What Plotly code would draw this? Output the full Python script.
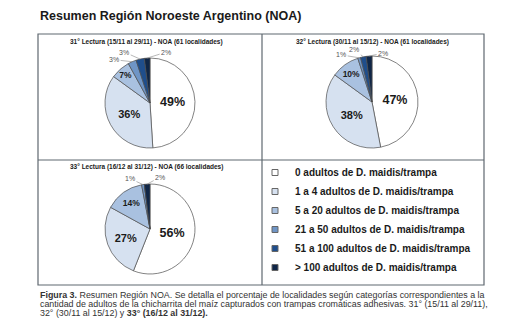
import math
import plotly.graph_objects as go

W, H = 519, 330

categories = [
    "0 adultos de D. maidis/trampa",
    "1 a 4 adultos de D. maidis/trampa",
    "5 a 20 adultos de D. maidis/trampa",
    "21 a 50 adultos de D. maidis/trampa",
    "51 a 100 adultos de D. maidis/trampa",
    "> 100 adultos de D. maidis/trampa",
]
lectura_31 = [49, 36, 7, 3, 3, 2]
lectura_32 = [47, 38, 10, 1, 2, 2]
lectura_33 = [56, 27, 14, 1, 0, 2]
titles = [
    "31° Lectura (15/11 al 29/11) - NOA (61 localidades)",
    "32° Lectura (30/11 al 15/12) - NOA (61 localidades)",
    "33° Lectura (16/12 al 31/12) - NOA (66 localidades)",
]
colors = ["#ffffff", "#d6e1f0", "#a9c1e0", "#6f95c6", "#1f4e8c", "#0f2647"]

FONT = "Liberation Sans, Arial, sans-serif"

def px_x(v):
    return v / W

def px_y(v):
    return 1 - v / H

# pie layout (centre x, centre y, radius) in pixels
pie_geo = [(150, 103, 45), (372, 102, 46), (150, 229, 45)]
inside_sizes = [12.5, 11, 8.5]
# pixel offsets of the small outside labels (per pie, per slice index)
label_offsets = [
    {3: (-18, -2), 4: (-16, -7), 5: (19, -6)},
    {3: (-18, -3), 4: (-9, -7), 5: (14, -3)},
    {3: (-13, -6), 5: (13, -7)},
]

fig = go.Figure()
annotations = []
for i, vals in enumerate([lectura_31, lectura_32, lectura_33]):
    cx, cy, r = pie_geo[i]
    total = float(sum(vals))
    texts, positions, sizes = [], [], []
    cum = 0.0
    for j, v in enumerate(vals):
        mid = (cum + v / 2.0) / total
        cum += v
        if j < 3 and v > 0:
            texts.append(f"<b>{v}%</b>")
            positions.append("inside")
            sizes.append(inside_sizes[j])
        else:
            texts.append("")
            positions.append("none")
            sizes.append(7)
            if v > 0 and j in label_offsets[i]:
                th = 2 * math.pi * mid
                ex = cx + r * math.sin(th)
                ey = cy - r * math.cos(th)
                ax, ay = label_offsets[i][j]
                annotations.append(dict(
                    text=f"{v}%", x=px_x(ex), y=px_y(ey), xref="paper", yref="paper",
                    showarrow=True, arrowhead=0, arrowwidth=0.6, arrowcolor="#888888",
                    ax=ax, ay=ay, standoff=0,
                    font=dict(size=7, color="#555555", family=FONT)))
    fig.add_trace(go.Pie(
        labels=categories,
        values=vals,
        text=texts,
        texttemplate="%{text}",
        textposition=positions,
        textfont=dict(size=sizes, color="#1a1a1a", family=FONT),
        insidetextorientation="horizontal",
        sort=False,
        direction="clockwise",
        rotation=0,
        marker=dict(colors=colors, line=dict(color="#4d4d4d", width=0.7)),
        domain=dict(x=[px_x(cx - r), px_x(cx + r)], y=[px_y(cy + r), px_y(cy - r)]),
        showlegend=False,
        hoverinfo="label+value",
    ))

# legend via dummy traces
for c, col in zip(categories, colors):
    fig.add_trace(go.Scatter(
        x=[None], y=[None], mode="markers", name=f"<b>{c}</b>",
        marker=dict(symbol="square", size=6, color=col,
                    line=dict(color="#666666", width=1)),
        showlegend=True,
    ))

box = dict(color="#5f6870", width=1.2)
shapes = [
    dict(type="rect", xref="paper", yref="paper",
         x0=px_x(38), x1=px_x(484), y0=px_y(285), y1=px_y(34), line=box),
    dict(type="line", xref="paper", yref="paper",
         x0=px_x(262), x1=px_x(262), y0=px_y(285), y1=px_y(34), line=box),
    dict(type="line", xref="paper", yref="paper",
         x0=px_x(38), x1=px_x(484), y0=px_y(160), y1=px_y(160), line=box),
]

annotations.append(
    dict(text="<b>Resumen Región Noroeste Argentino (NOA)</b>", x=px_x(38), y=px_y(15.5),
         xref="paper", yref="paper", xanchor="left", yanchor="middle", showarrow=False,
         font=dict(size=12.5, color="#1a1a1a", family=FONT)))
title_pos = [(146, 42), (372, 42), (146, 167)]
for t, (tx, ty) in zip(titles, title_pos):
    annotations.append(dict(text=f"<b>{t}</b>", x=px_x(tx), y=px_y(ty),
                            xref="paper", yref="paper", xanchor="center", yanchor="middle",
                            showarrow=False, font=dict(size=6.5, color="#1a1a1a", family=FONT)))
caption = [
    "<b>Figura 3.</b> Resumen Región NOA. Se detalla el porcentaje de localidades según categorías correspondientes a la",
    "cantidad de adultos de la chicharrita del maíz capturados con trampas cromáticas adhesivas. 31° (15/11 al 29/11),",
    "32° (30/11 al 15/12) y <b>33° (16/12 al 31/12).</b>",
]
for k, line in enumerate(caption):
    annotations.append(dict(text=line, x=px_x(38), y=px_y(295 + 9 * k),
                            xref="paper", yref="paper", xanchor="left", yanchor="middle",
                            showarrow=False, font=dict(size=8.9, color="#333333", family=FONT)))

fig.update_layout(
    width=W, height=H,
    margin=dict(l=0, r=0, t=0, b=0),
    paper_bgcolor="white", plot_bgcolor="white",
    font=dict(family=FONT),
    xaxis=dict(visible=False, domain=[0.6, 0.61]),
    yaxis=dict(visible=False, domain=[0.2, 0.21]),
    shapes=shapes,
    annotations=annotations,
    legend=dict(x=px_x(255), y=px_y(158), xanchor="left", yanchor="top",
                bgcolor="rgba(0,0,0,0)", itemwidth=30,
                font=dict(size=10, color="#1a1a1a", family="Liberation Sans, Arial"),
                traceorder="normal", tracegroupgap=0),
)

fig.write_html("out.html")
